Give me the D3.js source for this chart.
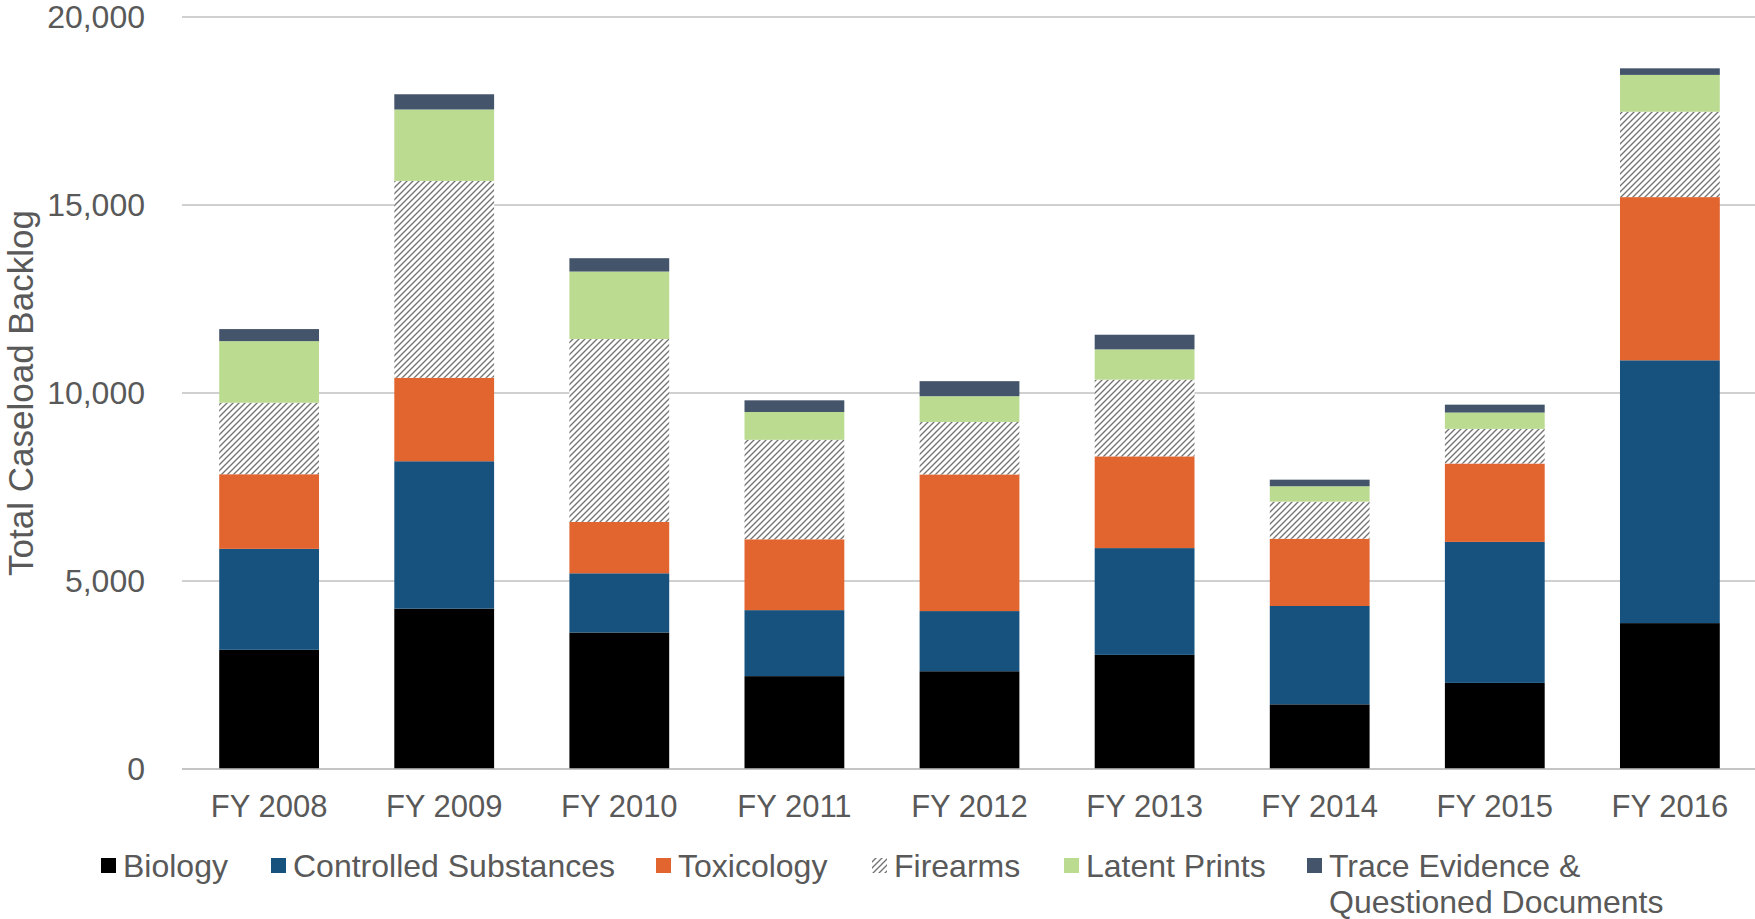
<!DOCTYPE html>
<html>
<head>
<meta charset="utf-8">
<script src="https://cdn.jsdelivr.net/npm/d3@7/dist/d3.min.js"></script>
<style>
  html, body { margin: 0; padding: 0; background: #ffffff; }
  svg { display: block; }
  text { font-family: "Liberation Sans", Arial, sans-serif; fill: #595959; }
</style>
</head>
<body>
<svg id="chart" width="1755" height="919"></svg>
<script>
const years = ["FY 2008","FY 2009","FY 2010","FY 2011","FY 2012","FY 2013","FY 2014","FY 2015","FY 2016"];
const seriesNames = ["Biology","Controlled Substances","Toxicology","Firearms","Latent Prints","Trace Evidence & Questioned Documents"];
const biology      = [3170, 4265, 3630, 2470, 2600, 3035, 1720, 2290, 3880];
const controlled   = [2685, 3920, 1575, 1755, 1600, 2840, 2615, 3750, 6990];
const toxicology   = [1985, 2220, 1365, 1885, 3635, 2440, 1790, 2085, 4340];
const firearms     = [1900, 5235, 4865, 2645, 1395, 2040,  985,  920, 2270];
const latentPrints = [1640, 1900, 1795,  740,  685,  805,  410,  435,  980];
const traceEvid    = [ 320,  405,  355,  310,  400,  390,  175,  210,  175];
const yTicks = [0, 5000, 10000, 15000, 20000];

const seriesValues = [biology, controlled, toxicology, firearms, latentPrints, traceEvid];
const colors = ["#000000", "#17527e", "#e2642e", "url(#hatch)", "#bbdb91", "#44546a"];

const svg = d3.select("#chart");

// hatch pattern (wide upward diagonal)
const defs = svg.append("defs");
const P = 6;
const pat = defs.append("pattern")
  .attr("id", "hatch")
  .attr("patternUnits", "userSpaceOnUse")
  .attr("width", P).attr("height", P);
pat.append("rect").attr("width", P).attr("height", P).attr("fill", "#ffffff");
pat.append("path")
  .attr("d", `M-1,1 L1,-1 M0,${P} L${P},0 M${P-1},${P+1} L${P+1},${P-1}`)
  .attr("stroke", "#737373").attr("stroke-width", 1.35);

const x = d3.scaleBand().domain(years).range([182, 1757]).paddingInner(0.43).paddingOuter(0.2125);
const y = d3.scaleLinear().domain([0, 20000]).range([769, 17]);

// gridlines
svg.append("g").selectAll("line").data(yTicks).join("line")
  .attr("x1", 182).attr("x2", 1755)
  .attr("y1", d => y(d)).attr("y2", d => y(d))
  .attr("stroke", "#c0c0c0").attr("stroke-width", 1.5);

// y tick labels
svg.append("g").selectAll("text").data(yTicks).join("text")
  .attr("x", 145).attr("y", d => y(d))
  .attr("text-anchor", "end").attr("dominant-baseline", "central")
  .style("font-size", "32px")
  .text(d => d3.format(",")(d));

// stacked data
const table = years.map((yr, i) => {
  const o = { year: yr };
  seriesNames.forEach((s, j) => o[s] = seriesValues[j][i]);
  return o;
});
const stack = d3.stack().keys(seriesNames)(table);

svg.append("g").selectAll("g").data(stack).join("g")
  .attr("fill", (d, i) => colors[i])
  .selectAll("rect").data(d => d).join("rect")
  .attr("x", d => x(d.data.year))
  .attr("width", x.bandwidth())
  .attr("y", d => y(d[1]))
  .attr("height", d => y(d[0]) - y(d[1]));

// baseline
svg.append("line").attr("x1", 182).attr("x2", 1755)
  .attr("y1", y(0)).attr("y2", y(0))
  .attr("stroke", "#c0c0c0").attr("stroke-width", 1.5);

// x labels
svg.append("g").selectAll("text").data(years).join("text")
  .attr("x", d => x(d) + x.bandwidth() / 2).attr("y", 817)
  .attr("text-anchor", "middle")
  .style("font-size", "31px")
  .text(d => d);

// y title
svg.append("text")
  .attr("transform", "translate(33,393) rotate(-90)")
  .attr("text-anchor", "middle")
  .style("font-size", "35px")
  .text("Total Caseload Backlog");

// legend
const legendX = [101, 271, 656, 872, 1064, 1307];
const legend = svg.append("g");
seriesNames.forEach((s, i) => {
  legend.append("rect")
    .attr("x", legendX[i]).attr("y", 858)
    .attr("width", 15).attr("height", 15)
    .attr("fill", colors[i]);
  const t = legend.append("text")
    .attr("x", legendX[i] + 22).attr("y", 877)
    .style("font-size", "32px");
  if (i === 5) {
    t.append("tspan").attr("x", legendX[i] + 22).attr("y", 877).text("Trace Evidence &");
    t.append("tspan").attr("x", legendX[i] + 22).attr("y", 913).text("Questioned Documents");
  } else {
    t.text(s);
  }
});
</script>
</body>
</html>
